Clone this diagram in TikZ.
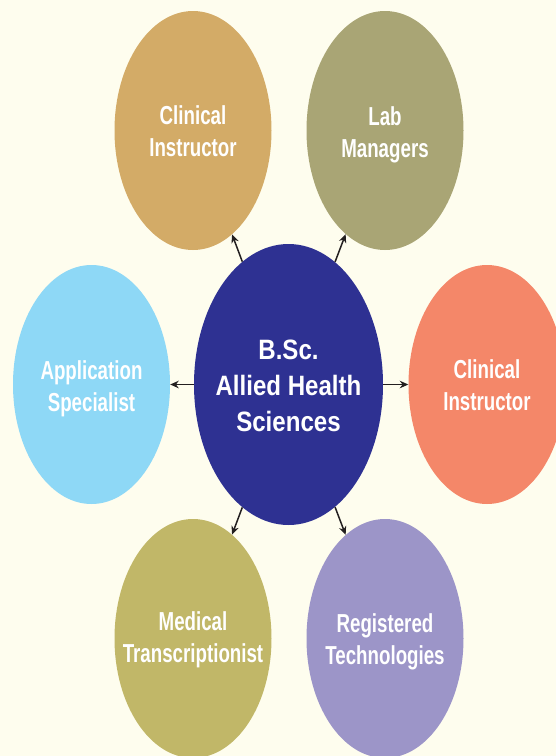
\documentclass[tikz,border=0pt]{standalone}
\usepackage{fontspec}
\setmainfont{Liberation Sans}
\newfontfamily\outerfont{Liberation Sans}[FakeStretch=0.72]
\newfontfamily\centerfont{Liberation Sans}[FakeStretch=0.86]
\usetikzlibrary{shapes.geometric,arrows.meta}
\definecolor{bgc}{HTML}{FEFDEE}
\definecolor{ctan}{HTML}{D3AB67}
\definecolor{colive}{HTML}{A9A575}
\definecolor{cblue}{HTML}{8ED8F6}
\definecolor{cnavy}{HTML}{2E3192}
\definecolor{csalmon}{HTML}{F48769}
\definecolor{cyellow}{HTML}{C1B768}
\definecolor{clav}{HTML}{9C95C8}
\definecolor{carrow}{HTML}{231F20}
\tikzset{
  oval/.style={shape=ellipse, inner sep=0pt, minimum width=157pt, minimum height=239pt, draw=none},
  bigoval/.style={shape=ellipse, inner sep=0pt, minimum width=189pt, minimum height=281pt, draw=none, fill=cnavy},
  lbl/.style={text=white, align=center, inner sep=0pt, font=\outerfont\bfseries\fontsize{26}{32}\selectfont},
  clbl/.style={text=white, align=center, inner sep=0pt, font=\centerfont\bfseries\fontsize{28}{36}\selectfont},
  arr/.style={draw=carrow, line width=1.5pt, -{Stealth[length=8.5pt,width=7.5pt]}}
}
\begin{document}
\begin{tikzpicture}[x=1pt,y=-1pt]
\fill[bgc] (0,0) rectangle (556,756);
\useasboundingbox (0,0) rectangle (556,756);
\clip (0,0) rectangle (556,756);
\node[bigoval] (c) at (288.5,384.5) {};
\node[oval, fill=ctan] (tl) at (193,130.5) {};
\node[oval, fill=colive] (tr) at (385,130.5) {};
\node[oval, fill=cblue] (l) at (91.5,384.5) {};
\node[oval, fill=csalmon] (r) at (487,384.5) {};
\node[oval, fill=cyellow] (bl) at (193,638.5) {};
\node[oval, fill=clav] (br) at (385,638.5) {};
\node[clbl] (ct) at (288.5,386) {B.Sc.\\Allied Health\\Sciences};
\node[lbl] (tlt) at (193,131) {Clinical\\Instructor};
\node[lbl] (trt) at (385,135) {Lab\\Managers};
\node[lbl] (lt) at (91.5,388.5) {Application\\Specialist};
\node[lbl] (rt) at (487,385.5) {Clinical\\Instructor};
\node[lbl] (blt) at (193,640) {Medical\\Transcriptionist};
\node[lbl] (brt) at (385,642) {Registered\\Technologies};
\draw[arr] (c) -- (tl);
\draw[arr] (c) -- (tr);
\draw[arr] (c) -- (l);
\draw[arr] (c) -- (r);
\draw[arr] (c) -- (bl);
\draw[arr] (c) -- (br);
\end{tikzpicture}
\end{document}
